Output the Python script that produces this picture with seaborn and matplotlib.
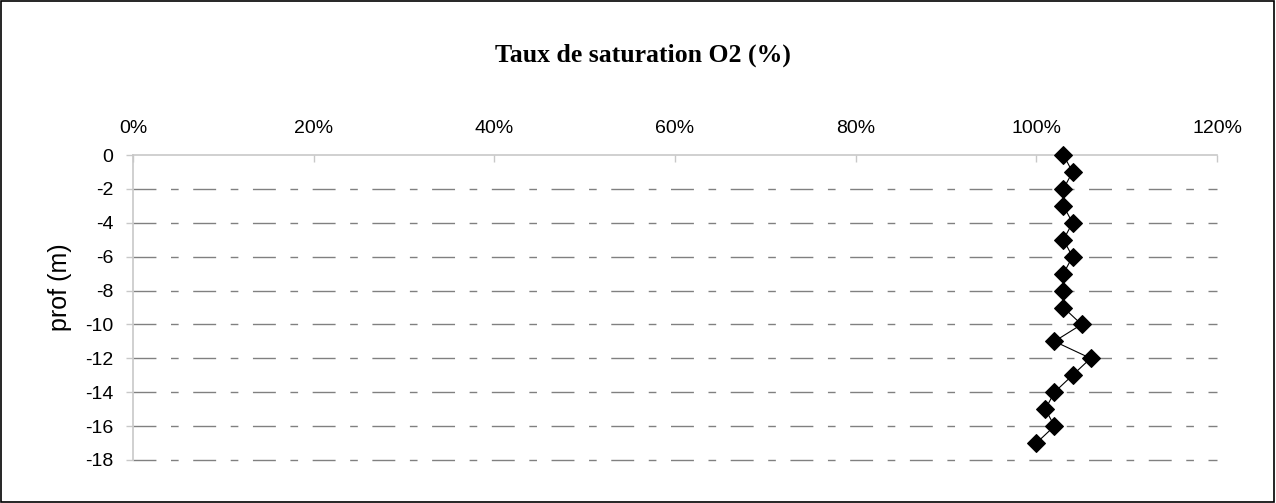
import numpy as np
import pandas as pd
import matplotlib
matplotlib.use("Agg")
import matplotlib.pyplot as plt
from matplotlib.ticker import PercentFormatter
from matplotlib.patches import Rectangle
import seaborn as sns

# depth (m) and O2 saturation (%)
depth = [0, -1, -2, -3, -4, -5, -6, -7, -8, -9, -10, -11, -12, -13, -14, -15, -16, -17]
saturation = [103, 104, 103, 103, 104, 103, 104, 103, 103, 103, 105, 102, 106, 104, 102, 101, 102, 100]
x_ticks = [0, 20, 40, 60, 80, 100, 120]
y_ticks = [0, -2, -4, -6, -8, -10, -12, -14, -16, -18]

df = pd.DataFrame({'prof': depth, 'sat': saturation})

sns.set_style('white')
plt.rcParams['font.family'] = ['Liberation Sans', 'DejaVu Sans']
plt.rcParams['axes.unicode_minus'] = False
plt.rcParams['text.color'] = 'black'

fig = plt.figure(figsize=(12.76, 5.03), dpi=100)
ax = fig.add_axes([0.1042, 0.0855, 0.9538 - 0.1042, 0.6918 - 0.0855])

sns.lineplot(data=df, x='sat', y='prof', sort=False, estimator=None,
             color='black', linewidth=0.8, marker='D', markersize=9,
             markeredgecolor='black', ax=ax, clip_on=False, zorder=3)

ax.set_xlim(0, 120)
ax.set_ylim(-18, 0)
ax.set_xticks(x_ticks)
ax.set_yticks(y_ticks)
ax.xaxis.set_major_formatter(PercentFormatter(100, decimals=0))
ax.xaxis.tick_top()
ax.tick_params(axis='x', which='major', direction='in', length=5, width=1,
               color='#c8c8c8', labelcolor='black', labelsize=14, pad=13,
               top=True, bottom=False)
ax.tick_params(axis='y', which='major', direction='out', length=5, width=1,
               color='#c8c8c8', labelcolor='black', labelsize=14, pad=9, left=True)
ax.set_xlabel('')
ax.set_ylabel('')

for s in ['right', 'bottom']:
    ax.spines[s].set_visible(False)
for s in ['left', 'top']:
    ax.spines[s].set_color('#c8c8c8')
    ax.spines[s].set_linewidth(1.2)

# dash-dot style horizontal gridlines
for y in y_ticks[1:]:
    ax.axhline(y, color='#808080', linewidth=1.0, clip_on=False,
               linestyle=(0, (16.5, 10.5, 5.5, 10.5)), zorder=0.5)

fig.text(0.5035, 0.89, 'Taux de saturation O2 (%)', ha='center', va='center',
         fontsize=18.5, fontweight='bold', color='black',
         family=['Liberation Serif', 'DejaVu Serif'])
fig.text(0.0474, 0.43, 'prof (m)', ha='center', va='center', rotation=90,
         fontsize=18, color='black')

fig.add_artist(Rectangle((0.0005, 0.001), 0.998, 0.997, transform=fig.transFigure,
                         fill=False, edgecolor='black', linewidth=1.2))

fig.savefig('out.png', dpi=100)
